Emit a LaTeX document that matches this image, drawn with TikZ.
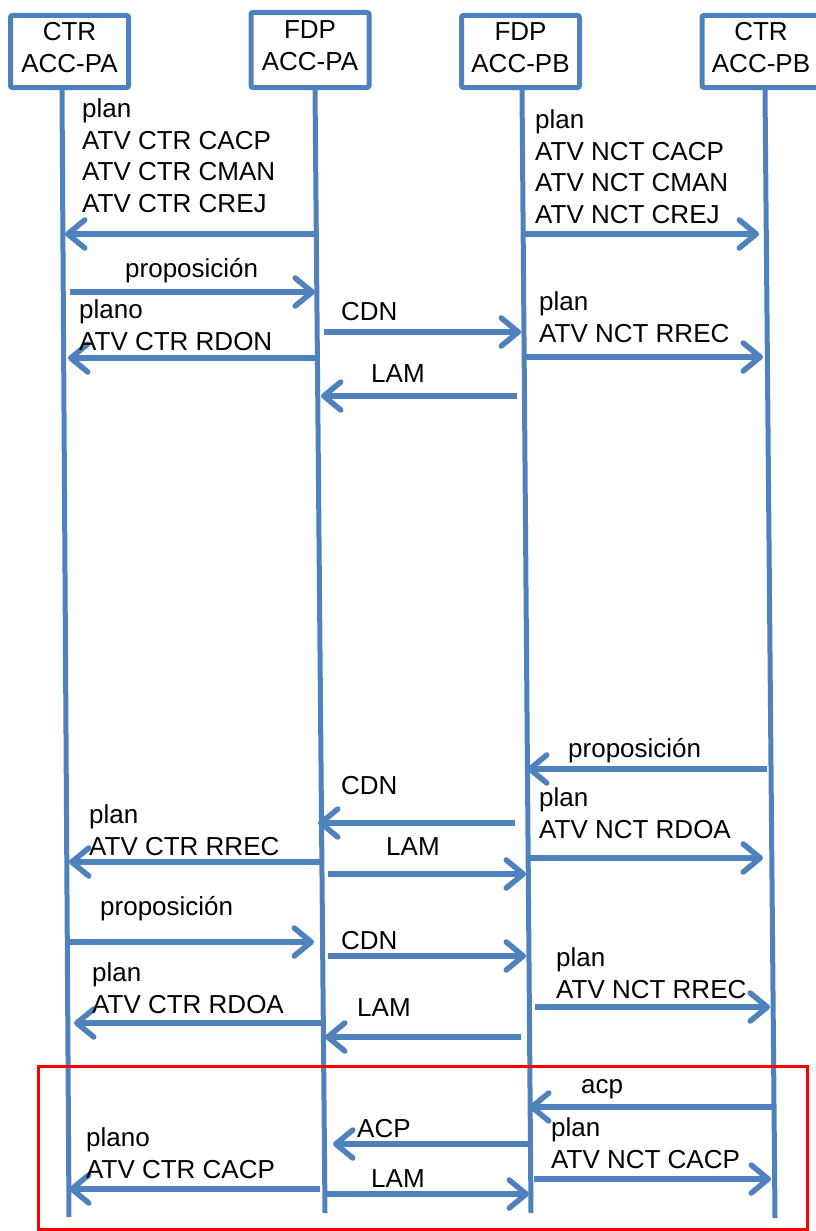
\documentclass[tikz,border=0pt]{standalone}
\usepackage{fontspec}
\setmainfont{Liberation Sans}
\usetikzlibrary{arrows.meta}
\definecolor{lblue}{HTML}{4F81BD}
\definecolor{fred}{HTML}{FF0000}
\newcommand\lfont{\fontsize{26}{31.5}\selectfont}
\newcommand\hfont{\fontsize{26}{32}\selectfont}
\newcommand\msgarrow[4]{\coordinate (#1s) at (#2,#4); \coordinate (#1e) at (#3,#4); \draw[msg] (#1s) -- (#1e);}
\begin{document}
\begin{tikzpicture}[x=1pt,y=-1pt,
  life/.style={draw=lblue, line width=5pt},
  hdr/.style={draw=lblue, line width=5pt, rounded corners=2pt, minimum width=118pt, minimum height=72pt, inner sep=0pt, align=center, font=\hfont},
  msg/.style={draw=lblue, line width=5.5pt, -{Straight Barb[length=17pt,width=28pt,round]}},
  lbl/.style={anchor=base west, inner sep=0pt, align=left, font=\lfont},
  frame/.style={draw=fred, line width=3pt}]
\useasboundingbox (0,0) rectangle (815,1231);
% headers
\node[hdr] (h1) at (69.5,51.5) {CTR\\ACC-PA\rule[-8pt]{0pt}{8pt}};
\node[hdr, minimum height=75pt] (h2) at (310,50) {FDP\\ACC-PA\rule[-8pt]{0pt}{8pt}};
\node[hdr] (h3) at (520.5,51.5) {FDP\\ACC-PB\rule[-8pt]{0pt}{8pt}};
\node[hdr] (h4) at (761,51.5) {CTR\\ACC-PB\rule[-8pt]{0pt}{8pt}};
% lifelines
\coordinate (t1) at (62,90);  \coordinate (b1) at (69,1217);
\coordinate (t2) at (315,88); \coordinate (b2) at (325,1213);
\coordinate (t3) at (522,88); \coordinate (b3) at (531,1213);
\coordinate (t4) at (765,90); \coordinate (b4) at (775,1218);
\draw[life] (t1) -- (b1);
\draw[life] (t2) -- (b2);
\draw[life] (t3) -- (b3);
\draw[life] (t4) -- (b4);
% messages
\msgarrow{m1}{315}{65}{234}
\msgarrow{m2}{522}{759}{234}
\msgarrow{m3}{70}{315}{292}
\msgarrow{m4}{319}{68}{358}
\msgarrow{m5}{324}{521}{332}
\msgarrow{m6}{526}{763}{357}
\msgarrow{m7}{517}{321}{396}
\msgarrow{m8}{767}{527}{769}
\msgarrow{m9}{515}{318}{823}
\msgarrow{m10}{322}{69}{862}
\msgarrow{m11}{530}{763}{858}
\msgarrow{m12}{328}{526}{874}
\msgarrow{m13}{69}{314}{942}
\msgarrow{m14}{328}{526}{956}
\msgarrow{m15}{535}{770}{1007}
\msgarrow{m16}{325}{74}{1023}
\msgarrow{m17}{521}{325}{1037}
\msgarrow{m18}{772}{529}{1107}
\msgarrow{m19}{529}{333}{1144}
\msgarrow{m20}{534}{771}{1179}
\msgarrow{m21}{320}{69}{1189}
\msgarrow{m22}{327}{529}{1194}
% labels (anchor = baseline of the last line)
\node[lbl] (l1) at (82,212) {plan\\ATV CTR CACP\\ATV CTR CMAN\\ATV CTR CREJ};
\node[lbl] (l2) at (535,223) {plan\\ATV NCT CACP\\ATV NCT CMAN\\ATV NCT CREJ};
\node[lbl] (l3) at (125,277) {proposición};
\node[lbl] (l4) at (79,350) {plano\\ATV CTR RDON};
\node[lbl] (l5) at (341,320) {CDN};
\node[lbl] (l6) at (539,342) {plan\\ATV NCT RREC};
\node[lbl] (l7) at (371,382) {LAM};
\node[lbl] (l8) at (568,757) {proposición};
\node[lbl] (l9) at (341,794) {CDN};
\node[lbl] (l10) at (539,838) {plan\\ATV NCT RDOA};
\node[lbl] (l11) at (89,855) {plan\\ATV CTR RREC};
\node[lbl] (l12) at (386,855) {LAM};
\node[lbl] (l13) at (100,915) {proposición};
\node[lbl] (l14) at (341,949) {CDN};
\node[lbl] (l15) at (556,998) {plan\\ATV NCT RREC};
\node[lbl] (l16) at (92,1013) {plan\\ATV CTR RDOA};
\node[lbl] (l17) at (357,1016) {LAM};
\node[lbl] (l18) at (581,1093) {acp};
\node[lbl] (l19) at (357,1137) {ACP};
\node[lbl] (l20) at (551,1168) {plan\\ATV NCT CACP};
\node[lbl] (l21) at (86,1178) {plano\\ATV CTR CACP};
\node[lbl] (l22) at (371,1187) {LAM};
% red frame
\draw[frame] (38,1066) rectangle (807,1229);
\end{tikzpicture}
\end{document}
